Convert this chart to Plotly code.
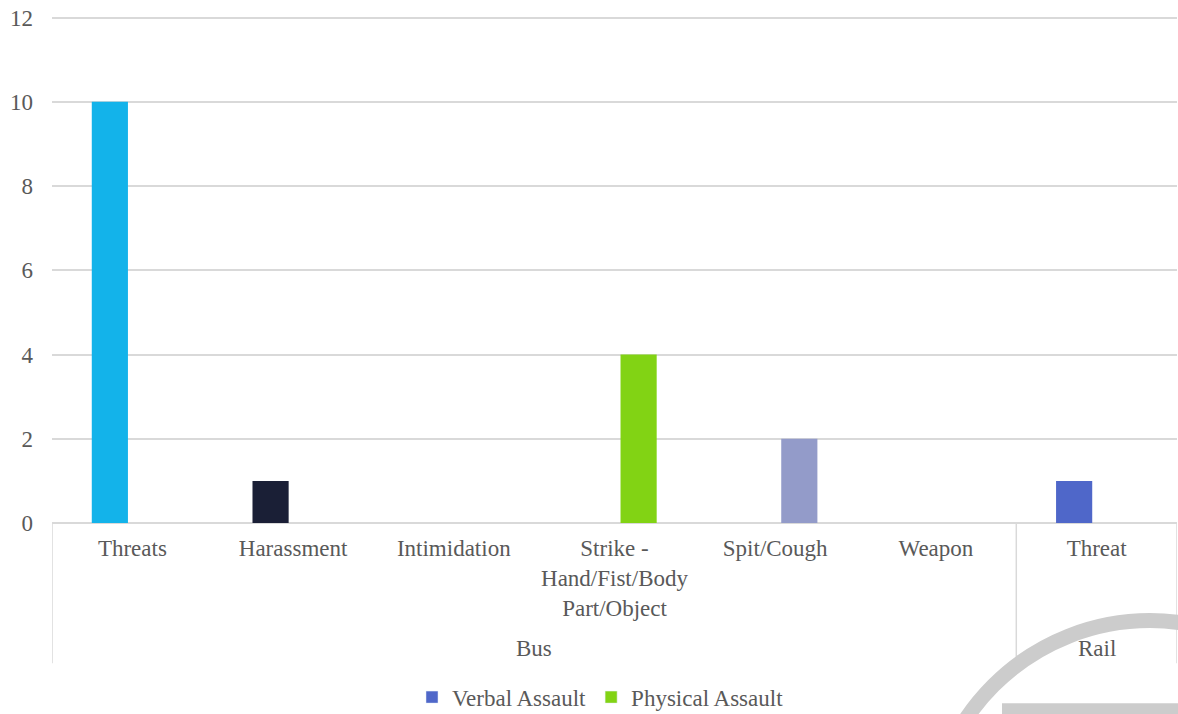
import plotly.graph_objects as go

categories = ["Threats", "Harassment", "Intimidation",
              "Strike -<br>Hand/Fist/Body<br>Part/Object",
              "Spit/Cough", "Weapon", "Threat"]
groups = ["Bus", "Bus", "Bus", "Bus", "Bus", "Bus", "Rail"]

verbal_cats = ["Threats", "Harassment", "Intimidation", "Threat"]
verbal_vals = [10, 1, 0, 1]
verbal_colors = ["#13B3EA", "#1A1F36", "#4F67C9", "#4F67C9"]

physical_cats = ["Strike -<br>Hand/Fist/Body<br>Part/Object", "Spit/Cough", "Weapon"]
physical_vals = [4, 2, 0]
physical_colors = ["#82D314", "#939BC9", "#82D314"]

legend_names = ["Verbal Assault", "Physical Assault"]
legend_colors = ["#4F67C9", "#82D314"]

y_ticks = [0, 2, 4, 6, 8, 10, 12]

FONT = "Liberation Serif"
FS = 23
TXT = "#595959"
GRID = "#D9D9D9"

W, H = 1178, 714
YMAX = y_ticks[-1] + 0.06
# plot area in pixels of the reference (top tick at 18, zero at 523)
L, R, B = 52, 1177, 523
T = B - (B - 18) * YMAX / y_ticks[-1]


def px_x(px):
    return (px - L) / (R - L)


def px_y(py):
    return (B - py) / (B - T)


idx = {c: i for i, c in enumerate(categories)}
bw = 0.225

fig = go.Figure()
fig.add_trace(go.Bar(
    x=[idx[c] + 0.36 for c in verbal_cats], y=verbal_vals, width=bw,
    marker=dict(color=verbal_colors, line=dict(width=0)),
    showlegend=False, hoverinfo="y"))
fig.add_trace(go.Bar(
    x=[idx[c] + 0.65 for c in physical_cats], y=physical_vals, width=bw,
    marker=dict(color=physical_colors, line=dict(width=0)),
    showlegend=False, hoverinfo="y"))
for n, c in zip(legend_names, legend_colors):
    fig.add_trace(go.Bar(x=[None], y=[None], name=n, marker_color=c))

shapes = []
# vertical separators in category axis area
for xv in [0, 6, 7]:
    shapes.append(dict(type="line", xref="x", yref="paper",
                       x0=xv, x1=xv, y0=0, y1=px_y(663),
                       line=dict(color=GRID, width=1.5), layer="below"))
# watermark ring and bar
cx, cy, rr = 1150, 842, 229
shapes.append(dict(type="circle", xref="paper", yref="paper",
                   x0=px_x(cx - rr + 7.5), x1=px_x(cx + rr - 7.5),
                   y0=px_y(cy + rr - 7.5), y1=px_y(cy - rr + 7.5),
                   line=dict(color="#CCCCCC", width=15), layer="below"))
shapes.append(dict(type="rect", xref="paper", yref="paper",
                   x0=px_x(1002), x1=px_x(1200), y0=px_y(703), y1=px_y(740),
                   fillcolor="#CCCCCC", line=dict(width=0), layer="below"))

annotations = []
group_names = []
for g in groups:
    if g not in group_names:
        group_names.append(g)
for g in group_names:
    ids = [i for i, gg in enumerate(groups) if gg == g]
    annotations.append(dict(x=(ids[0] + ids[-1] + 1) / 2, xref="x",
                            y=px_y(648), yref="paper", text=g, showarrow=False,
                            font=dict(family=FONT, size=FS, color=TXT),
                            xanchor="center", yanchor="middle"))

fig.update_layout(
    width=W, height=H,
    margin=dict(l=L, r=W - R, t=T, b=H - B, pad=0, autoexpand=False),
    paper_bgcolor="white", plot_bgcolor="white",
    barmode="overlay",
    font=dict(family=FONT, size=FS, color=TXT),
    xaxis=dict(range=[0, 7], tickmode="array",
               tickvals=[i + 0.5 for i in range(len(categories))],
               ticktext=categories, showgrid=False, zeroline=False,
               showline=False, ticks="", ticklabelstandoff=9,
               tickfont=dict(family=FONT, size=FS, color=TXT)),
    yaxis=dict(range=[0, YMAX], tickvals=y_ticks, showgrid=True,
               gridcolor=GRID, gridwidth=1.5, zeroline=True,
               zerolinecolor=GRID, zerolinewidth=1.5, showline=False,
               ticks="", ticklabelstandoff=18,
               tickfont=dict(family=FONT, size=FS, color=TXT)),
    legend=dict(orientation="h", x=px_x(412), xanchor="left",
                y=px_y(697), yanchor="middle",
                font=dict(family=FONT, size=FS, color=TXT),
                itemwidth=30, tracegroupgap=0),
    shapes=shapes, annotations=annotations,
)

fig.write_html("out.html",
               config={"displayModeBar": False},
               post_script="document.body.style.margin='0';"
                           "document.body.style.overflow='hidden';")
